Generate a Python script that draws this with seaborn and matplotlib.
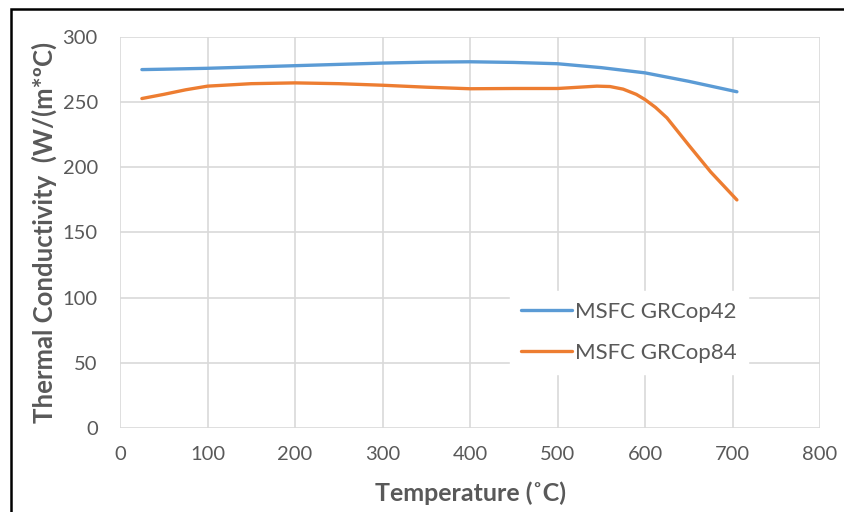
import numpy as np
import pandas as pd
import seaborn as sns
import matplotlib.pyplot as plt
from matplotlib.patches import Rectangle

# step 1: values
temp_42 = [25, 50, 100, 150, 200, 250, 300, 350, 400, 450, 500, 550, 600, 650, 705]
cond_42 = [275, 275.3, 276, 277, 278, 279, 280, 280.7, 281, 280.5, 279.5, 276.5, 272.5, 266, 258]

temp_84 = [25, 50, 75, 100, 150, 200, 250, 300, 350, 400, 450, 500, 525, 545, 560, 575,
           590, 600, 612, 625, 650, 675, 705]
cond_84 = [252.8, 256, 259.5, 262.3, 264.2, 264.8, 264.2, 263, 261.5, 260.3, 260.5, 260.5,
           261.5, 262.3, 262, 260, 256, 252, 246, 238, 217, 196.5, 175]

series_names = ["MSFC GRCop42", "MSFC GRCop84"]

df = pd.concat([
    pd.DataFrame({"Temperature": temp_42, "Conductivity": cond_42, "Alloy": series_names[0]}),
    pd.DataFrame({"Temperature": temp_84, "Conductivity": cond_84, "Alloy": series_names[1]}),
])

# step 2: style
sns.set_style("white")
plt.rcParams["font.family"] = ["Lato", "DejaVu Sans"]
txt = "#595959"
palette = {series_names[0]: "#5B9BD5", series_names[1]: "#ED7D31"}

fig = plt.figure(figsize=(8.44, 5.12), dpi=100)
ax = fig.add_axes([0.1422, 0.1641, 0.8294, 0.7636])

sns.lineplot(data=df, x="Temperature", y="Conductivity", hue="Alloy",
             palette=palette, linewidth=2.4, ax=ax, sort=False)

# step 3: axes, grid, ticks
ax.set_xlim(0, 800)
ax.set_ylim(0, 300)
ax.set_xticks(np.arange(0, 801, 100))
ax.set_yticks(np.arange(0, 301, 50))
ax.grid(True, color="#d9d9d9", linewidth=1.2)
ax.set_axisbelow(True)
for s in ax.spines.values():
    s.set_visible(False)
ax.tick_params(axis="both", length=0, labelsize=14.5, labelcolor=txt)
ax.tick_params(axis="x", pad=13)
ax.tick_params(axis="y", pad=16)

ax.set_xlabel("Temperature (˚C)", fontsize=18, fontweight="bold", color=txt, labelpad=13)
ax.set_ylabel("Thermal Conductivity  (W/(m*ºC)", fontsize=18.5, fontweight="bold", color=txt,
              labelpad=4)

# step 4: legend
leg = ax.legend(loc="lower left", bbox_to_anchor=(0.541, 0.109), frameon=True, fontsize=16,
                handlelength=2.3, labelspacing=0.95, borderpad=0.5, handletextpad=0.15)
leg.get_frame().set_facecolor("white")
leg.get_frame().set_edgecolor("white")
leg.get_frame().set_alpha(1)
for t in leg.get_texts():
    t.set_color(txt)
for h in leg.get_lines():
    h.set_linewidth(2.4)

# step 5: outer frame
fig.patches.append(Rectangle((0.013, -0.05), 1.2, 1.0324, transform=fig.transFigure,
                             fill=False, edgecolor="black", linewidth=1.8))

fig.savefig("out.png", dpi=100)
